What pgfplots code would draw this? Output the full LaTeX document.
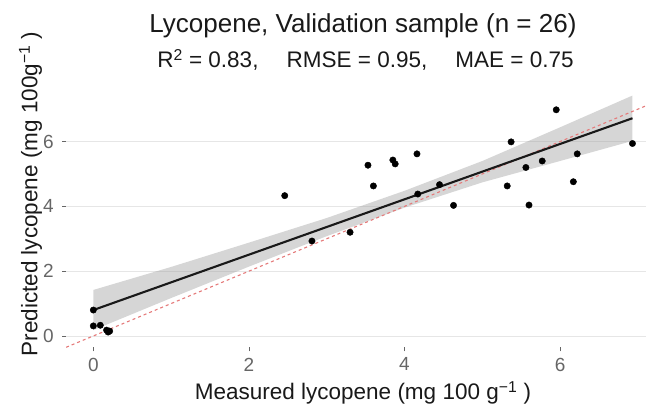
\documentclass[border=0pt]{standalone}
\usepackage{pgfplots}
\pgfplotsset{compat=1.18}
\usepackage{fontspec}
\setmainfont{Liberation Sans}
\definecolor{gridc}{HTML}{E6E6E6}
\definecolor{tickc}{HTML}{666666}
\definecolor{idline}{HTML}{E57A7A}
\begin{document}
\begin{tikzpicture}
\useasboundingbox (0,0) rectangle (646pt,409pt);
\begin{axis}[
  at={(66.1pt,61.7pt)}, anchor=south west,
  scale only axis, width=579.6pt, height=261.8pt,
  xmin=-0.35, xmax=7.10, ymin=-0.35, ymax=7.73,
  axis line style={draw=none},
  xtick={0,2,4,6}, ytick={0,2,4,6},
  xtick pos=bottom, ytick pos=left,
  tick align=outside, major tick length=4pt,
  tick style={tickc, line width=0.6pt},
  ymajorgrids, grid style={gridc, line width=0.8pt},
  /pgf/number format/assume math mode=true,
  xticklabel style={font=\fontsize{19}{19}\selectfont, text=tickc, yshift=-3pt},
  yticklabel style={font=\fontsize{19}{19}\selectfont, text=tickc, xshift=-5pt},
  clip=true,
]
% observed points
\addplot[only marks, mark=*, mark size=3.2pt, black] coordinates {
 (0.00,0.80) (0.00,0.31) (0.09,0.33) (0.17,0.18) (0.19,0.12) (0.21,0.15)
 (2.46,4.33) (2.81,2.93) (3.30,3.20) (3.53,5.27) (3.60,4.63) (3.85,5.43)
 (3.88,5.31) (4.16,5.62) (4.17,4.38) (4.45,4.67) (4.63,4.03) (5.32,4.63)
 (5.37,5.99) (5.56,5.20) (5.60,4.04) (5.77,5.40) (5.95,6.98) (6.17,4.76)
 (6.22,5.62) (6.93,5.94)
};
% confidence ribbon (upper, then lower reversed)
\addplot[draw=none, fill=black!40, fill opacity=0.4] coordinates {
 (0,1.42) (1,2.13) (2,2.88) (3,3.64) (4,4.48) (5,5.40) (6,6.44) (6.93,7.42)
 (6.93,6.02) (6,5.40) (5,4.74) (4,3.96) (3,3.08) (2,2.14) (1,1.17) (0,0.18)
} -- cycle;
% 1:1 line
\addplot[idline, line width=1.1pt, dash pattern=on 3pt off 3pt] coordinates {(-0.35,-0.35) (7.10,7.10)};
% regression line
\addplot[black!90, line width=2.1pt] coordinates {(0,0.80) (6.93,6.72)};
\end{axis}
\node[anchor=base, text=black!90] at (363pt,376pt) {\fontsize{26}{30}\selectfont Lycopene, Validation sample (n = 26)};
\node[anchor=base, text=black!90] at (365.5pt,341pt) {\fontsize{22.5}{26}\selectfont R\textsuperscript{2} = 0.83,\hspace{1.25em}RMSE = 0.95,\hspace{1.25em}MAE = 0.75};
\node[anchor=base, text=black!90] at (363pt,9pt) {\fontsize{22.5}{26}\selectfont Measured lycopene (mg 100 g\textsuperscript{−1} )};
\node[anchor=base, rotate=90, text=black!90] at (37.3pt,215pt) {\fontsize{22.5}{26}\selectfont Predicted lycopene (mg 100g\textsuperscript{−1} )};
\end{tikzpicture}
\end{document}
